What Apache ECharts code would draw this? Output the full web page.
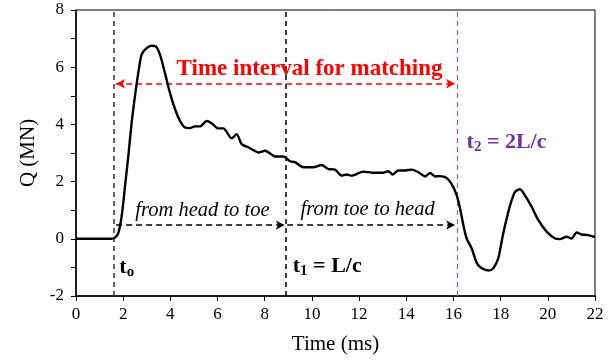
<!DOCTYPE html>
<html>
<head>
<meta charset="utf-8">
<script src="https://cdn.jsdelivr.net/npm/echarts@6/dist/echarts.min.js"></script>
<style>html,body{margin:0;padding:0;background:#fff}#c{width:613px;height:360px}</style>
</head>
<body>
<div id="c"></div>
<script>
// Time (ms)
var timeMs = [0, 0.8, 1.5, 1.65, 1.79, 1.94, 2.08, 2.22, 2.36, 2.50, 2.64, 2.78, 2.99, 3.21, 3.38, 3.56, 3.77, 3.98, 4.20, 4.41, 4.62, 4.83, 5.04, 5.26, 5.54, 5.75, 6.03, 6.25, 6.60, 6.81, 7.02, 7.30, 7.52, 7.73, 8.02, 8.44, 8.79, 9.07, 9.28, 9.64, 10.06, 10.41, 10.70, 10.98, 11.26, 11.48, 11.69, 12.18, 12.61, 13.03, 13.24, 13.42, 13.66, 13.95, 14.23, 14.51, 14.80, 15.01, 15.22, 15.43, 15.71, 15.92, 16.14, 16.28, 16.42, 16.56, 16.77, 16.99, 17.20, 17.48, 17.69, 17.90, 18.04, 18.19, 18.40, 18.61, 18.82, 19.03, 19.32, 19.60, 19.95, 20.31, 20.52, 20.80, 21.01, 21.22, 21.43, 21.71, 22.0];
// Q (MN)
var forceMN = [0, 0, 0, 0.04, 0.19, 0.82, 1.86, 2.91, 4.07, 4.99, 5.80, 6.44, 6.67, 6.75, 6.73, 6.44, 5.80, 5.11, 4.53, 4.12, 3.89, 3.87, 3.93, 3.93, 4.12, 4.04, 3.86, 3.86, 3.51, 3.66, 3.31, 3.20, 3.10, 3.02, 3.08, 2.88, 2.88, 2.71, 2.68, 2.50, 2.50, 2.58, 2.44, 2.42, 2.21, 2.25, 2.21, 2.35, 2.31, 2.31, 2.36, 2.25, 2.39, 2.39, 2.42, 2.33, 2.18, 2.30, 2.18, 2.19, 2.13, 1.92, 1.52, 1.06, 0.48, 0.01, -0.33, -0.85, -1.03, -1.11, -1.03, -0.68, -0.10, 0.48, 1.17, 1.64, 1.73, 1.52, 1.11, 0.65, 0.25, 0.01, -0.01, 0.07, 0.01, 0.22, 0.15, 0.13, 0.06];
// Event times (ms)
var eventTimes = [1.6, 8.9, 16.17]; // t0, t1, t2
var matchArrowLevel = 5.42;
var waveArrowLevel = 0.48;
var xTicks = [0, 22, 2];
var yTicks = [-2, 8, 1];

var serif = 'Liberation Serif';
var purple = '#7030a0';

var curve = timeMs.map(function (t, i) { return [t, forceMN[i]]; });

function textPoint(coord, formatter, style, rich) {
  return {
    coord: coord, symbol: 'circle', symbolSize: 0,
    label: Object.assign({ show: true, position: 'inside', formatter: formatter, fontFamily: serif, rich: rich || {} }, style)
  };
}
function vLine(x, color, width) {
  return {
    type: 'line', data: [],
    markLine: {
      silent: true, symbol: ['none', 'none'], label: { show: false },
      lineStyle: { color: color, type: [5, 4], width: width, opacity: 1 },
      emphasis: { disabled: true },
      data: [{ xAxis: x }]
    }
  };
}
var subRich = function (color) {
  return {
    m: { fontFamily: serif, fontSize: 22, fontWeight: 'bold', color: color },
    s: { fontFamily: serif, fontSize: 15, fontWeight: 'bold', color: color, padding: [10, 0, 0, 0] }
  };
};

var chart = echarts.init(document.getElementById('c'), null, { renderer: 'canvas' });
chart.setOption({
  animation: false,
  grid: { left: 76, right: 18, top: 10, bottom: 62, show: true, borderColor: '#000', borderWidth: 1 },
  xAxis: {
    type: 'value', min: xTicks[0], max: xTicks[1], interval: xTicks[2],
    name: 'Time (ms)', nameLocation: 'middle', nameGap: 38,
    nameTextStyle: { fontFamily: serif, fontSize: 21, color: '#000' },
    axisLine: { onZero: false, lineStyle: { color: '#000', width: 1.5 } },
    axisTick: { length: 5, lineStyle: { color: '#000' } },
    axisLabel: { fontFamily: serif, fontSize: 17, color: '#000', margin: 10 },
    splitLine: { show: false }
  },
  yAxis: {
    type: 'value', min: yTicks[0], max: yTicks[1], interval: yTicks[2],
    name: 'Q (MN)', nameLocation: 'middle', nameGap: 36,
    nameTextStyle: { fontFamily: serif, fontSize: 21, color: '#000' },
    axisLine: { lineStyle: { color: '#000', width: 1.5 } },
    axisTick: { length: 5, lineStyle: { color: '#000' } },
    axisLabel: { fontFamily: serif, fontSize: 17, color: '#000', margin: 12,
      formatter: function (v) { return (Math.round(v) % 2 === 0) ? String(v) : ''; } },
    splitLine: { show: false }
  },
  series: [
    {
      type: 'line', data: curve, showSymbol: false, smooth: 0.25,
      lineStyle: { color: '#000', width: 2.4 }, z: 5
    },
    vLine(eventTimes[0], '#333333', 1.5),
    vLine(eventTimes[1], '#000000', 1.5),
    vLine(eventTimes[2], '#9966cc', 1.3),
    {
      type: 'line', data: [],
      markLine: {
        silent: true, symbol: ['arrow', 'arrow'], symbolSize: [7, 9], label: { show: false },
        lineStyle: { color: '#ff0000', type: [6, 4], width: 1.5 },
        data: [[{ coord: [eventTimes[0] + 0.1, matchArrowLevel] }, { coord: [eventTimes[2] - 0.1, matchArrowLevel] }]]
      }
    },
    {
      type: 'line', data: [],
      markLine: {
        silent: true, symbol: ['none', 'arrow'], symbolSize: [7, 9], label: { show: false },
        lineStyle: { color: '#000', type: [6, 4], width: 1.5 },
        data: [
          [{ coord: [eventTimes[0] + 0.1, waveArrowLevel] }, { coord: [eventTimes[1] - 0.05, waveArrowLevel] }],
          [{ coord: [eventTimes[1] + 0.05, waveArrowLevel] }, { coord: [eventTimes[2] - 0.1, waveArrowLevel] }]
        ]
      }
    },
    {
      type: 'scatter', data: [], silent: true,
      markPoint: {
        silent: true,
        data: [
          textPoint([9.90, 5.95], 'Time interval for matching', { fontSize: 23, fontWeight: 'bold', color: '#ff0000' }),
          textPoint([5.36, 0.99], 'from head to toe', { fontSize: 20.5, fontStyle: 'italic', color: '#000' }),
          textPoint([12.36, 1.02], 'from toe to head', { fontSize: 20.5, fontStyle: 'italic', color: '#000' }),
          textPoint([2.15, -1.0], '{m|t}{s|o}', { color: '#000' }, subRich('#000')),
          textPoint([10.65, -0.95], '{m|t}{s|1}{m| = L/c}', { color: '#000' }, subRich('#000')),
          textPoint([18.25, 3.39], '{m|t}{s|2}{m| = 2L/c}', { color: purple }, subRich(purple))
        ]
      }
    }
  ]
});
</script>
</body>
</html>
